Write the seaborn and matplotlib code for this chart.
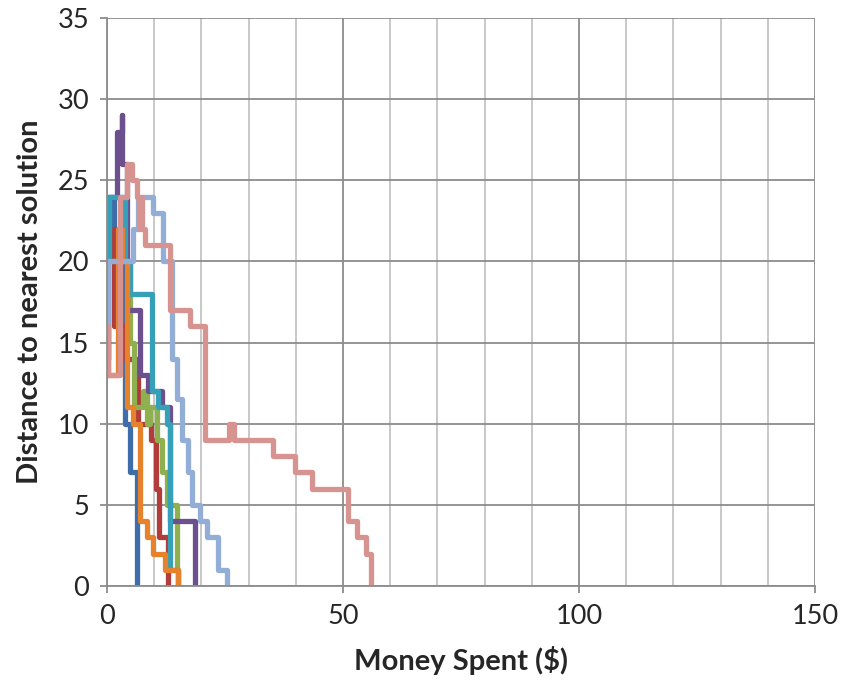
import matplotlib
matplotlib.use('Agg')
import matplotlib.pyplot as plt
import seaborn as sns
import pandas as pd

# --- data: step traces (money spent, distance) per run ---
blue_x = [0.5, 0.5, 1.5, 3.9, 4.9, 6.3]
blue_y = [20, 24, 20, 10, 7, 0]

red_x = [0.3, 0.3, 1.5, 4.0, 6.6, 9.3, 10.3, 11.0, 12.9]
red_y = [13, 22, 16, 14, 10, 9, 6, 3, 0]

green_x = [0.3, 4.9, 5.8, 7.7, 8.4, 9.1, 10.6, 11.6, 12.6, 14.8, 15.0]
green_y = [20, 15, 11, 12, 10, 11, 9, 7, 5, 1, 0]

purple_x = [0.3, 0.3, 2.2, 3.1, 3.1, 4.2, 7.0, 8.7, 11.6, 13.3, 18.6]
purple_y = [14, 24, 28, 29, 26, 17, 13, 12, 11, 4, 0]

teal_x = [0.5, 0.5, 3.9, 4.9, 9.5, 10.9, 12.6, 13.3, 15.0]
teal_y = [20, 24, 20, 18, 12, 11, 10, 1, 0]

orange_x = [0.3, 2.3, 3.2, 4.3, 5.6, 7.0, 8.4, 9.8, 12.3, 15.1]
orange_y = [13, 22, 20, 11, 10, 4, 3, 2, 1, 0]

lightblue_x = [0.3, 0.3, 5.6, 6.5, 9.8, 11.9, 13.7, 14.8, 15.8, 17.2, 17.9, 19.7, 21.1, 23.5, 25.4]
lightblue_y = [14, 20, 22, 24, 23, 20, 14, 11.5, 9, 7, 5, 4, 3, 1, 0]

pink_x = [0.3, 0.3, 2.75, 4.2, 5.2, 6.3, 6.7, 7.1, 7.5, 8.0, 13.3, 17.6, 20.8,
          25.9, 27.0, 35.2, 39.8, 43.4, 51.0, 52.9, 54.8, 55.9]
pink_y = [16, 13, 24, 26, 25, 24, 22, 24, 22, 21, 17, 16, 9,
          10, 9, 8, 7, 6, 4, 3, 2, 0]

series = {
    'blue': (blue_x, blue_y),
    'red': (red_x, red_y),
    'green': (green_x, green_y),
    'purple': (purple_x, purple_y),
    'teal': (teal_x, teal_y),
    'orange': (orange_x, orange_y),
    'lightblue': (lightblue_x, lightblue_y),
    'pink': (pink_x, pink_y),
}
colors = {
    'blue': '#3E6DAA', 'red': '#B03C3C', 'green': '#8FB04E', 'purple': '#6B4F8F',
    'teal': '#36A0B8', 'orange': '#E6812C', 'lightblue': '#93AED6', 'pink': '#D79390',
}

rows = []
for name, (xs, ys) in series.items():
    for i, (x, y) in enumerate(zip(xs, ys)):
        rows.append({'run': name, 'order': i, 'money': x, 'dist': y})
df = pd.DataFrame(rows)

sns.set_style('white')
plt.rcParams['font.family'] = ['Lato', 'DejaVu Sans']

fig = plt.figure(figsize=(8.59, 6.88), dpi=100)
ax = fig.add_axes([0.1246, 0.1483, 0.8242, 0.8255])

sns.lineplot(data=df, x='money', y='dist', hue='run', hue_order=list(series),
             palette=colors, sort=False, estimator=None, legend=False,
             drawstyle='steps-post', linewidth=3.8, ax=ax,
             solid_capstyle='round', solid_joinstyle='round')

ax.set_xlim(0, 150)
ax.set_ylim(0, 35)
ax.set_xticks([0, 50, 100, 150])
ax.set_xticks(range(0, 151, 10), minor=True)
ax.set_yticks(range(0, 36, 5))
ax.set_axisbelow(True)
ax.grid(which='major', axis='both', color='#8C8C8C', linewidth=1.3)
ax.grid(which='minor', axis='x', color='#C4C4C4', linewidth=1.3)

for s in ['top', 'right']:
    ax.spines[s].set_visible(False)
for s in ['left', 'bottom']:
    ax.spines[s].set_color('#8C8C8C')
    ax.spines[s].set_linewidth(1.3)

ax.tick_params(which='major', direction='out', length=5, width=1.3, color='#8C8C8C',
               labelsize=19.5, pad=8, left=True, bottom=True)
ax.tick_params(which='minor', length=0)

ax.set_xlabel(r'Money Spent (\$)', fontsize=21, fontweight='bold', labelpad=12)
ax.set_ylabel('Distance to nearest solution', fontsize=21, fontweight='bold', labelpad=10)

fig.savefig('out.png', dpi=100)
